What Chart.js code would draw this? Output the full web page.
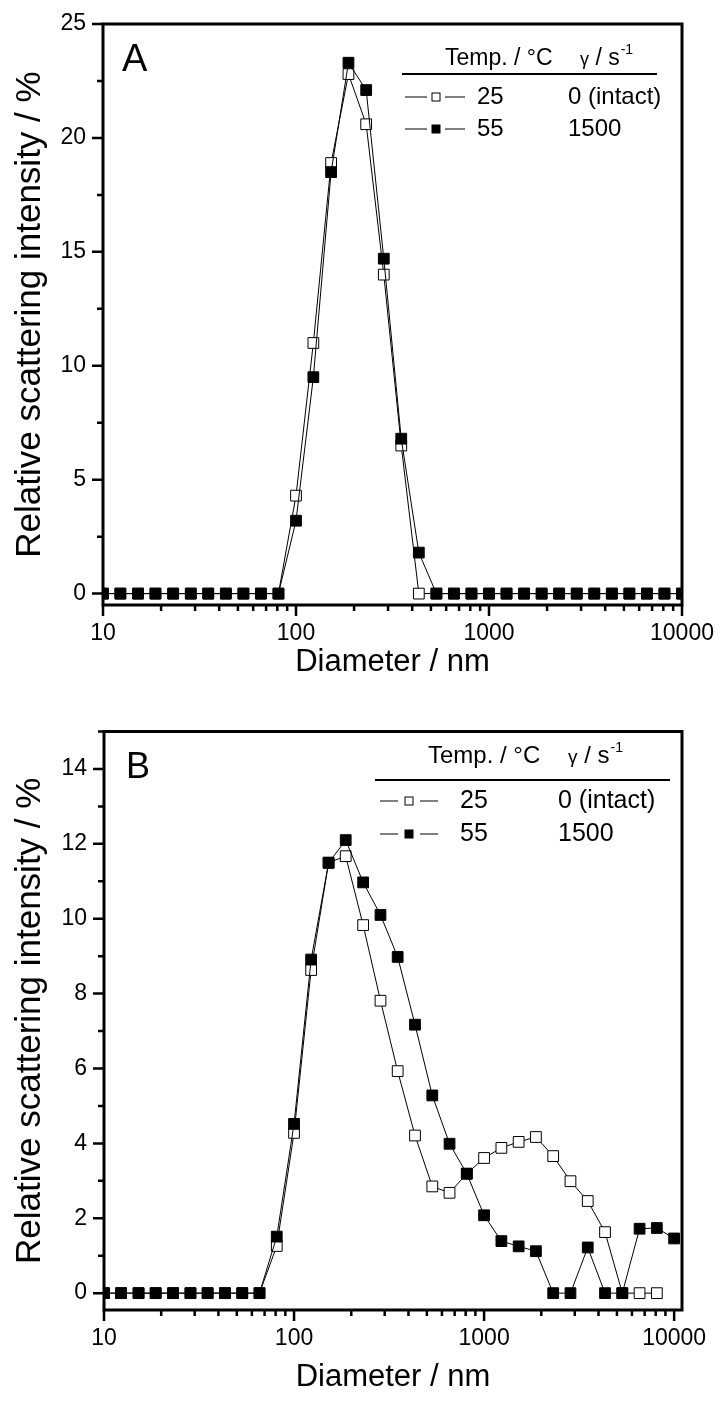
<!DOCTYPE html>
<html>
<head>
<meta charset="utf-8">
<script src="https://cdn.jsdelivr.net/npm/chart.js@4.4.0/dist/chart.umd.min.js"></script>
<style>
  html, body { margin: 0; padding: 0; background: #fff; }
  .panel { position: absolute; left: 0; width: 719px; }
  #boxA { top: 0; height: 700px; }
  #boxB { top: 700px; height: 705px; }
</style>
</head>
<body>
<div class="panel" id="boxA"><canvas id="chartA"></canvas></div>
<div class="panel" id="boxB"><canvas id="chartB"></canvas></div>
<script>
// Size bins (nm)
const diameters = [10, 12.3, 15.2, 18.7, 23.1, 28.5, 35.1, 43.3, 53.4, 65.8, 81.1,
  100, 123, 152, 187, 231, 285, 351, 433, 534, 658, 811,
  1000, 1233, 1520, 1874, 2310, 2848, 3511, 4329, 5337, 6579, 8111, 10000];

// Panel A
const intactA = [0, 0, 0, 0, 0, 0, 0, 0, 0, 0, 0,
  4.3, 11.0, 18.9, 22.8, 20.6, 14.0, 6.5, 0, 0, 0, 0,
  0, 0, 0, 0, 0, 0, 0, 0, 0, 0, 0, 0];
const shearedA = [0, 0, 0, 0, 0, 0, 0, 0, 0, 0, 0,
  3.2, 9.5, 18.5, 23.3, 22.1, 14.7, 6.8, 1.8, 0, 0, 0,
  0, 0, 0, 0, 0, 0, 0, 0, 0, 0, 0, 0];

// Panel B
const intactB = [0, 0, 0, 0, 0, 0, 0, 0, 0, 0, 1.26,
  4.28, 8.63, 11.5, 11.67, 9.83, 7.81, 5.93, 4.21, 2.85, 2.68, 3.19,
  3.61, 3.88, 4.04, 4.17, 3.66, 2.99, 2.46, 1.63, 0, 0, 0, null];
const shearedB = [0, 0, 0, 0, 0, 0, 0, 0, 0, 0, 1.51,
  4.52, 8.91, 11.49, 12.1, 10.97, 10.1, 8.98, 7.17, 5.28, 3.99, 3.19,
  2.08, 1.39, 1.25, 1.12, 0, 0, 1.22, 0, 0, 1.72, 1.74, 1.46];

const xTicks = [10, 100, 1000, 10000];
const yTicksA = [0, 5, 10, 15, 20, 25];
const yTicksB = [0, 2, 4, 6, 8, 10, 12, 14];
const legendRows = [['25', '0 (intact)'], ['55', '1500']];

const FONT = "'Liberation Sans', Arial, sans-serif";

// frame, ticks (major + minor), panel letter and the table-like legend
const decorations = {
  id: 'decorations',
  afterDatasetsDraw(chart, args, o) {
    const { ctx, chartArea: a, scales: { x, y } } = chart;
    ctx.save();
    ctx.strokeStyle = '#000';
    ctx.fillStyle = '#000';

    // ticks
    ctx.lineWidth = 2.5;
    ctx.beginPath();
    for (let dec = 10; dec <= 10000; dec *= 10) {
      for (let m = 1; m <= 9; m++) {
        const v = dec * m;
        if (v > x.max || (dec === 10000 && m > 1)) break;
        const px = x.getPixelForValue(v);
        const len = m === 1 ? 11 : 6;
        ctx.moveTo(px, a.bottom);
        ctx.lineTo(px, a.bottom + len);
      }
    }
    for (let v = 0; v <= y.max + 1e-6; v += o.yMinor) {
      const py = y.getPixelForValue(v);
      const major = Math.abs(v / o.yMajor - Math.round(v / o.yMajor)) < 1e-6;
      ctx.moveTo(a.left, py);
      ctx.lineTo(a.left - (major ? 11 : 6), py);
    }
    ctx.stroke();

    // frame
    ctx.lineWidth = 3;
    ctx.strokeRect(a.left, a.top, a.right - a.left, a.bottom - a.top);

    // panel letter
    ctx.font = o.letterSize + 'px ' + FONT;
    ctx.textBaseline = 'alphabetic';
    ctx.textAlign = 'left';
    ctx.fillText(o.letter, o.letterX, o.letterY);

    // legend header
    const L = o.legend;
    ctx.font = L.headSize + 'px ' + FONT;
    ctx.fillText('Temp. / \u00B0C', L.headX, L.headY);
    ctx.font = (L.headSize - 5) + 'px ' + FONT;
    ctx.fillText('\u03B3', L.gammaX, L.headY);
    let gx = L.gammaX + ctx.measureText('\u03B3').width;
    ctx.font = L.headSize + 'px ' + FONT;
    ctx.fillText(' / s', gx, L.headY);
    gx += ctx.measureText(' / s').width;
    ctx.font = Math.round(L.headSize * 0.6) + 'px ' + FONT;
    ctx.fillText('-1', gx + 1, L.headY - 11);

    ctx.lineWidth = 2;
    ctx.beginPath();
    ctx.moveTo(L.lineX1, L.lineY);
    ctx.lineTo(L.lineX2, L.lineY);
    ctx.stroke();

    // legend rows
    ctx.font = L.rowSize + 'px ' + FONT;
    ctx.textBaseline = 'middle';
    legendRows.forEach((row, i) => {
      const ry = L.rowY[i];
      ctx.lineWidth = 1;
      ctx.beginPath();
      ctx.moveTo(L.seg[0], ry); ctx.lineTo(L.seg[1], ry);
      ctx.moveTo(L.seg[2], ry); ctx.lineTo(L.seg[3], ry);
      ctx.stroke();
      const s = 9;
      if (i === 0) {
        ctx.fillStyle = '#fff';
        ctx.fillRect(L.mk - s / 2, ry - s / 2, s, s);
        ctx.strokeRect(L.mk - s / 2 + 0.5, ry - s / 2 + 0.5, s - 1, s - 1);
        ctx.fillStyle = '#000';
      } else {
        ctx.fillRect(L.mk - s / 2, ry - s / 2, s, s);
      }
      ctx.fillText(row[0], L.col1, ry);
      ctx.fillText(row[1], L.col2, ry);
    });
    ctx.restore();
  }
};

function makeChart(id, intact, sheared, yTicks, opts) {
  const ds = (vals, filled) => ({
    data: diameters.map((d, i) => ({ x: d, y: vals[i] })),
    borderColor: '#000',
    borderWidth: 1,
    pointStyle: 'rect',
    pointRadius: 7.6,
    pointBorderWidth: 1,
    pointBorderColor: '#000',
    pointBackgroundColor: filled ? '#000' : '#fff',
    tension: 0,
    spanGaps: false
  });
  return new Chart(document.getElementById(id), {
    type: 'line',
    data: {
      datasets: [ds(sheared, true), ds(intact, false)]
    },
    options: {
      responsive: true,
      maintainAspectRatio: false,
      animation: false,
      events: [],
      layout: { padding: { left: 0, right: 37, top: opts.top, bottom: 0 } },
      plugins: {
        legend: { display: false },
        tooltip: { enabled: false },
        decorations: opts.deco
      },
      scales: {
        x: {
          type: 'logarithmic',
          min: 10,
          max: opts.xMax,
          afterBuildTicks: s => { s.ticks = xTicks.map(v => ({ value: v, major: true })); },
          afterFit: s => { s.height = opts.h - opts.bottom; s.paddingLeft = 0; s.paddingRight = 0; },
          grid: { display: false, drawTicks: false },
          border: { display: false },
          ticks: {
            autoSkip: false, maxRotation: 0, padding: 15, color: '#000',
            font: { family: FONT, size: 23 },
            callback: v => String(v)
          },
          title: {
            display: true, text: 'Diameter / nm', color: '#000',
            font: { family: FONT, size: 31, lineHeight: 1 },
            padding: { top: 0, bottom: opts.xTitlePad }
          }
        },
        y: {
          type: 'linear',
          min: opts.yMin,
          max: opts.yMax,
          afterBuildTicks: s => { s.ticks = yTicks.map(v => ({ value: v })); },
          afterFit: s => { s.width = opts.left; s.paddingTop = 0; s.paddingBottom = 0; },
          grid: { display: false, drawTicks: false },
          border: { display: false },
          ticks: {
            padding: 17, color: '#000',
            font: { family: FONT, size: 23 }
          },
          title: {
            display: true, text: 'Relative scattering intensity / %', color: '#000',
            font: { family: FONT, size: 35, lineHeight: 1 },
            padding: { top: 13, bottom: 0 }
          }
        }
      }
    },
    plugins: [decorations]
  });
}

makeChart('chartA', intactA, shearedA, yTicksA, {
  h: 700, top: 24, bottom: 605, left: 103, xMax: 10000, yMin: -0.5, yMax: 25, xTitlePad: 22,
  deco: {
    yMinor: 2.5, yMajor: 5, letter: 'A', letterSize: 38, letterX: 122, letterY: 71,
    legend: {
      headSize: 23, headX: 445, headY: 65, gammaX: 580,
      lineX1: 402, lineX2: 657, lineY: 74,
      rowSize: 24, rowY: [97, 129], seg: [405, 427, 445, 465], mk: 436,
      col1: 477, col2: 568
    }
  }
});

makeChart('chartB', intactB, shearedB, yTicksB, {
  h: 705, top: 31.5, bottom: 610, left: 104, xMax: 11000, yMin: -0.45, yMax: 15, xTitlePad: 12,
  deco: {
    yMinor: 1, yMajor: 2, letter: 'B', letterSize: 36, letterX: 126, letterY: 78,
    legend: {
      headSize: 24, headX: 428, headY: 63, gammaX: 568,
      lineX1: 375, lineX2: 670, lineY: 80,
      rowSize: 25, rowY: [101, 134], seg: [380, 398, 420, 438], mk: 409,
      col1: 460, col2: 558
    }
  }
});
</script>
</body>
</html>
